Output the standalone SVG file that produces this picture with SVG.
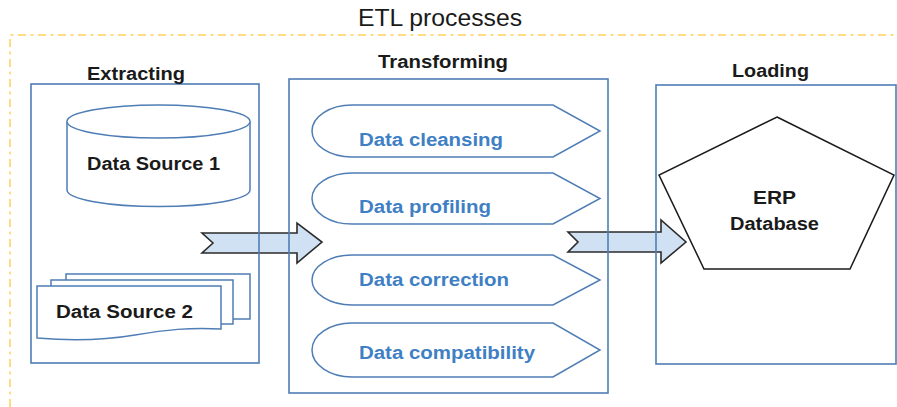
<svg xmlns="http://www.w3.org/2000/svg" width="897" height="407" viewBox="0 0 897 407">
<style>
  .frame { fill: none; stroke: #ffd15c; stroke-width: 1.5; stroke-dasharray: 8 4.5 3 4.5; }
  .box { fill: none; stroke: #4f7db5; stroke-width: 1.6; }
  .shape { fill: #ffffff; stroke: #4f7db5; stroke-width: 1.5; }
  .pent { fill: #ffffff; stroke: #1a1a1a; stroke-width: 1.5; }
  .arrow { fill: #cfe1f2; stroke: #2b2b2b; stroke-width: 1.6; stroke-linejoin: miter; }
  .title { font-family: "Liberation Sans", Arial, sans-serif; font-size: 23px; fill: #1a1a1a; }
  .head { font-family: "Liberation Sans", Arial, sans-serif; font-size: 18px; font-weight: bold; fill: #1a1a1a; }
  .lbl { font-family: "Liberation Sans", Arial, sans-serif; font-size: 18px; font-weight: bold; fill: #1a1a1a; }
  .step { font-family: "Liberation Sans", Arial, sans-serif; font-size: 18px; font-weight: bold; fill: #3f7fc4; }
</style>
<rect width="897" height="407" fill="#ffffff"/>

<g id="etl-frame">
  <path class="frame" d="M10,407 V35 H897"/>
  <text class="title" x="358" y="26" textLength="164" lengthAdjust="spacingAndGlyphs">ETL processes</text>
</g>

<g id="connectors">
  <path class="arrow" d="M202,233 H297 V223 L322,242 L297,263 V253 H202 L213,243 Z"/>
  <path class="arrow" d="M568,232 H661 V220 L686,242 L661,263 V252 H568 L578,242 Z"/>
</g>

<g id="extracting">
  <rect class="box" x="31" y="84" width="228" height="279"/>
  <text class="head" x="87" y="80" textLength="98" lengthAdjust="spacingAndGlyphs">Extracting</text>
</g>

<g id="data-source-1">
  <path class="shape" d="M67,121.5 V190 A91.5,16.5 0 0 0 250,190 V121.5 A91.5,16.5 0 0 0 67,121.5 Z"/>
  <path class="shape" fill="none" d="M67,121.5 A91.5,16.5 0 0 0 250,121.5"/>
  <text class="lbl" x="87" y="170" textLength="133" lengthAdjust="spacingAndGlyphs">Data Source 1</text>
</g>

<g id="data-source-2">
  <rect class="shape" x="66" y="274" width="184" height="45"/>
  <rect class="shape" x="51" y="280" width="182" height="44"/>
  <path class="shape" d="M37,286 H221 V329 C190,327 165,330 135,335 C100,341 70,341 37,338 Z"/>
  <text class="lbl" x="56" y="318" textLength="137" lengthAdjust="spacingAndGlyphs">Data Source 2</text>
</g>

<g id="transforming">
  <rect class="box" x="289" y="79" width="319" height="314"/>
  <text class="head" x="378" y="68" textLength="130" lengthAdjust="spacingAndGlyphs">Transforming</text>
</g>

<g id="data-cleansing">
  <path class="shape" d="M352,105 H553 L600,131 L553,157 H352 A40,26 0 0 1 352,105 Z"/>
  <text class="step" x="359" y="146" textLength="144" lengthAdjust="spacingAndGlyphs">Data cleansing</text>
</g>

<g id="data-profiling">
  <path class="shape" d="M352,173 H553 L600,198.5 L553,224 H352 A40,25.5 0 0 1 352,173 Z"/>
  <text class="step" x="359" y="213" textLength="132" lengthAdjust="spacingAndGlyphs">Data profiling</text>
</g>

<g id="data-correction">
  <path class="shape" d="M352,255 H553 L600,280 L553,305 H352 A40,25 0 0 1 352,255 Z"/>
  <text class="step" x="359" y="286" textLength="150" lengthAdjust="spacingAndGlyphs">Data correction</text>
</g>

<g id="data-compatibility">
  <path class="shape" d="M352,323 H553 L600,350 L553,377 H352 A40,27 0 0 1 352,323 Z"/>
  <text class="step" x="359" y="359" textLength="176" lengthAdjust="spacingAndGlyphs">Data compatibility</text>
</g>

<g id="loading">
  <rect class="box" x="656" y="85" width="240" height="279"/>
  <text class="head" x="732" y="77" textLength="77" lengthAdjust="spacingAndGlyphs">Loading</text>
</g>

<g id="erp-database">
  <polygon class="pent" points="777,117 894,175 850,269 704,269 659,175"/>
  <text class="lbl" x="753" y="204" textLength="43" lengthAdjust="spacingAndGlyphs">ERP</text>
  <text class="lbl" x="730" y="230" textLength="89" lengthAdjust="spacingAndGlyphs">Database</text>
</g>
</svg>
